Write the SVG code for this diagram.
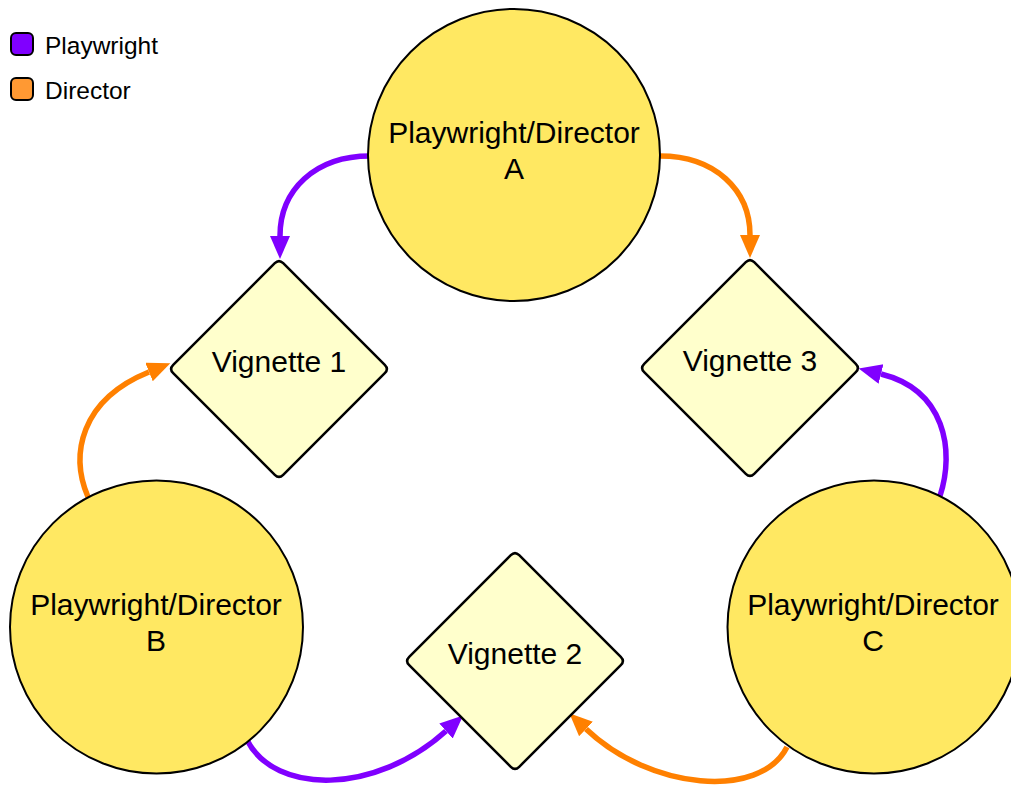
<svg xmlns="http://www.w3.org/2000/svg" width="1011" height="785" viewBox="0 0 1011 785">
<style>
.circ{fill:#FFE862;stroke:#000;stroke-width:2}
.dia{fill:#FFFFCC;stroke:#000;stroke-width:2.5;stroke-linejoin:round}
.lbl{font-family:"Liberation Sans",Arial,sans-serif;font-size:30px;fill:#000;text-anchor:middle}
.leg{font-family:"Liberation Sans",Arial,sans-serif;font-size:24.5px;fill:#000}
.p{fill:none;stroke:#8000FF;stroke-width:5.5;marker-end:url(#ap)}
.o{fill:none;stroke:#FF8000;stroke-width:5.5;marker-end:url(#ao)}
</style>
<defs>
<marker id="ap" markerUnits="userSpaceOnUse" markerWidth="24" markerHeight="22" refX="0" refY="10" orient="auto" viewBox="0 0 24 22">
<path d="M0,0 L23,10 L0,20 Z" fill="#8000FF"/>
</marker>
<marker id="ao" markerUnits="userSpaceOnUse" markerWidth="24" markerHeight="22" refX="0" refY="10" orient="auto" viewBox="0 0 24 22">
<path d="M0,0 L23,10 L0,20 Z" fill="#FF8000"/>
</marker>
<path id="diamond" d="M4.2,-105.8 L105.8,-4.2 Q110,0 105.8,4.2 L4.2,105.8 Q0,110 -4.2,105.8 L-105.8,4.2 Q-110,0 -105.8,-4.2 L-4.2,-105.8 Q0,-110 4.2,-105.8 Z"/>
</defs>
<rect width="1011" height="785" fill="#fff"/>

<g id="legend">
<rect x="11" y="33" width="22" height="22" rx="5" fill="#8000FF" stroke="#000" stroke-width="2"/>
<text class="leg" x="45" y="54">Playwright</text>
<rect x="11" y="78" width="22" height="22" rx="5" fill="#FF9933" stroke="#000" stroke-width="2"/>
<text class="leg" x="45" y="99">Director</text>
</g>

<g id="connectors">
<path class="p" d="M370,156 C315,156 280,190 280,236"/>
<path class="o" d="M660,156 C715,156 750,190 750,235"/>
<path class="o" d="M88,497 C70,455 80,400 149,372"/>
<path class="p" d="M940,496 C955,450 945,390 881,374"/>
<path class="p" d="M247,740 C275,795 375,795 446,731"/>
<path class="o" d="M787,747 C760,800 650,790 586,729"/>
</g>

<g id="nodeA">
<circle class="circ" cx="514" cy="155" r="146"/>
<text class="lbl" x="514" y="143">Playwright/Director</text>
<text class="lbl" x="514" y="179">A</text>
</g>
<g id="nodeB">
<circle class="circ" cx="156.5" cy="627" r="146.5"/>
<text class="lbl" x="156" y="615">Playwright/Director</text>
<text class="lbl" x="156" y="651">B</text>
</g>
<g id="nodeC">
<circle class="circ" cx="874" cy="627" r="146.5"/>
<text class="lbl" x="873" y="615">Playwright/Director</text>
<text class="lbl" x="873" y="651">C</text>
</g>
<g id="vignette1">
<use href="#diamond" class="dia" x="279" y="369"/>
<text class="lbl" x="279" y="372">Vignette 1</text>
</g>
<g id="vignette3">
<use href="#diamond" class="dia" x="750" y="368"/>
<text class="lbl" x="750" y="371">Vignette 3</text>
</g>
<g id="vignette2">
<use href="#diamond" class="dia" x="515" y="661"/>
<text class="lbl" x="515" y="664">Vignette 2</text>
</g>
</svg>
